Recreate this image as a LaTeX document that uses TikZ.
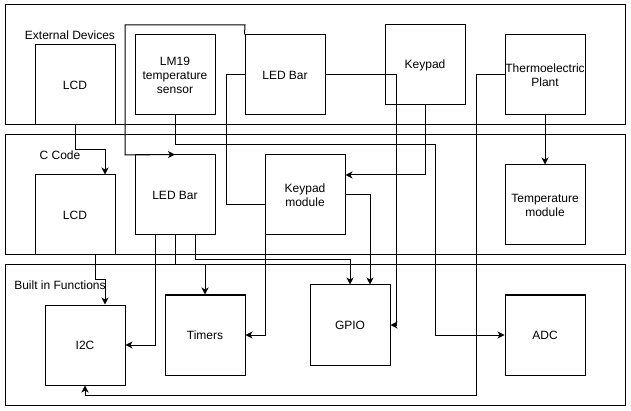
\documentclass[tikz,border=0pt]{standalone}
\usepackage{fontspec}
\setmainfont{Liberation Sans}
\usetikzlibrary{arrows.meta}
\begin{document}
\begin{tikzpicture}[x=1pt,y=-1pt,
  every node/.style={font=\fontsize{12}{14}\selectfont},
  group/.style={draw,line width=1pt,fill=white,rectangle,inner sep=0pt,minimum width=620pt},
  box/.style={draw,line width=1pt,fill=white,rectangle,inner sep=0pt,minimum width=80pt,minimum height=80pt,align=center},
  lbl/.style={inner sep=0pt},
  conn/.style={line width=1pt},
  arr/.style={line width=1pt,-{Stealth[length=7pt,width=7pt,inset=2pt]}}]
\useasboundingbox (0,0) rectangle (631,411);
% containers
\node[group,minimum height=120pt] (ext) at (315,65) {};
\node[group,minimum height=120pt] (ccode) at (315,195) {};
\node[group,minimum height=140pt] (builtin) at (315,335) {};
\node[lbl] (lblext) at (70,35) {External Devices};
\node[lbl] (lblc) at (60,155) {C Code};
\node[lbl] (lblb) at (60,285) {Built in Functions};
% external devices
\node[box] (lcdE) at (75,85) {LCD};
\node[box] (lm19) at (175,75) {LM19\\temperature\\sensor};
\node[box] (ledE) at (285,75) {LED Bar};
\node[box] (keyE) at (425,65) {Keypad};
\node[box] (thermo) at (545,75) {Thermoelectric\\Plant};
% C code
\node[box] (lcdC) at (75,215) {LCD};
\node[box] (ledC) at (175,195) {LED Bar};
\node[box] (keyM) at (305,195) {Keypad\\module};
\node[box] (temp) at (545,205) {Temperature\\module};
% built in
\node[box] (i2c) at (85,345) {I2C};
\node[box] (timers) at (205,335) {Timers};
\node[box] (gpio) at (350,325) {GPIO};
\node[box] (adc) at (545,335) {ADC};
% connectors
\draw[arr] (lcdE.south) -- (75,150) -- (105,150) -- (105,150 |- lcdC.north);
\draw[arr] (ledE.north west) -- (245,25) -- (125,25) -- (125,155) -- (ledC.north);
\draw[arr] (lm19.south) -- (175,145) -- (435,145) -- (435,335) -- (adc.west);
\draw[arr] (ledE.west) -- (226,75) -- (226,205) -- (265,205) -- (265,335) -- (timers.east);
\draw[arr] (ledE.east) -- (396,75) -- (396,325) -- (gpio.east |- 396,325);
\draw[arr] (keyE.south) -- (425,175) -- (keyM.east |- 425,175);
\draw[arr] (thermo.west) -- (476,75) -- (476,395) -- (85,395) -- (i2c.south);
\draw[arr] (thermo.south) -- (temp.north);
\draw[arr] (keyM.east) -- (370,195) -- (370,195 |- gpio.north);
\draw[arr] (ledC.south -| 155,0) -- (155,345) -- (i2c.east |- 155,345);
\draw[arr] (ledC.south) -- (175,265) -- (205,265) -- (timers.north);
\draw[arr] (ledC.south -| 195,0) -- (195,260) -- (350,260) -- (gpio.north);
\draw[arr] (lcdC.south -| 95,0) -- (95,280) -- (105,280) -- (105,280 |- i2c.north);
\end{tikzpicture}
\end{document}
